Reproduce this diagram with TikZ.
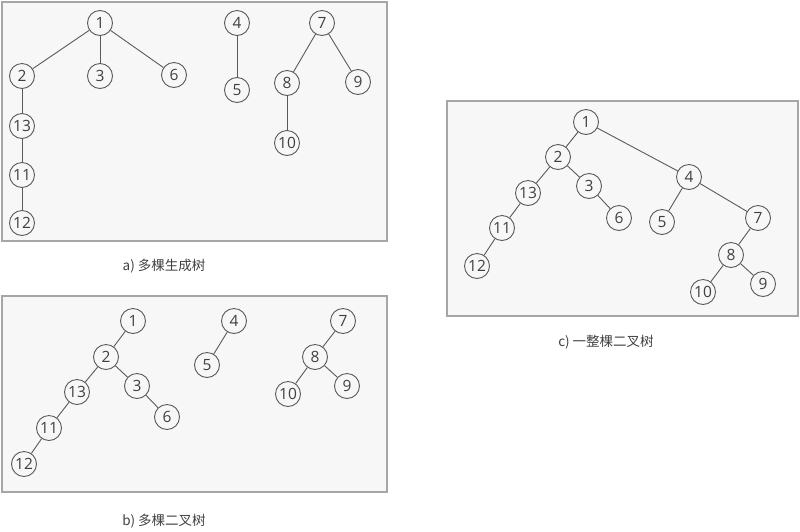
\documentclass[tikz,border=0pt]{standalone}
\usepackage{fontspec}
\setmainfont{Open Sans}
\newfontfamily\cjk{Noto Sans CJK SC}
\usepackage{tikz}
\definecolor{panelfill}{HTML}{F7F7F7}
\definecolor{panelline}{HTML}{A6A6A6}
\definecolor{treeline}{HTML}{5A5A5A}
\definecolor{numtext}{HTML}{404040}
\tikzstyle{panel} = [draw=panelline, fill=panelfill, line width=1.2pt]
\tikzstyle{vertex} = [circle, draw=treeline, fill=panelfill, line width=0.9pt, minimum size=25pt, inner sep=0pt, text=numtext, font=\fontsize{15.5}{15.5}\selectfont]
\tikzstyle{edge} = [draw=treeline, line width=0.9pt]
\tikzstyle{caption} = [text=numtext, font=\cjk\fontsize{13.5}{13.5}\selectfont]

\begin{document}
\begin{tikzpicture}[x=1pt,y=-1pt]
	\useasboundingbox (0,0) rectangle (800,531);
	
	% ------------------- Panels ------------------- %
	\draw[panel] (2,2) rectangle (387,241);
	\draw[panel] (2,296) rectangle (387,492);
	\draw[panel] (447,101) rectangle (798,316);
	
	% ------------------- a) forest ------------------- %
	\foreach \n/\x/\y in {1/100/23, 2/22/76, 3/100/76, 6/174/75, 13/22/126, 11/22/175, 12/22/223,
		4/237/23, 5/237/90, 7/322/23, 8/287/83, 9/358/82, 10/287/143}
		\node[vertex] (a\n) at (\x,\y) {\n};
	\foreach \u/\v in {1/2, 1/3, 1/6, 2/13, 13/11, 11/12, 4/5, 7/8, 7/9, 8/10}
		\draw[edge] (a\u) -- (a\v);
	\node[caption] (capa) at (164,266) {a) 多棵生成树};
	
	% ------------------- b) binary trees ------------------- %
	\foreach \n/\x/\y in {1/133/321, 2/106/357, 3/137/386, 6/167/417, 13/77/392, 11/49/428, 12/24/464,
		4/234/321, 5/207/365, 7/343/321, 8/315/357, 9/347/386, 10/288/394}
		\node[vertex] (b\n) at (\x,\y) {\n};
	\foreach \u/\v in {1/2, 2/13, 2/3, 3/6, 13/11, 11/12, 4/5, 7/8, 8/10, 8/9}
		\draw[edge] (b\u) -- (b\v);
	\node[caption] (capb) at (164,521) {b) 多棵二叉树};
	
	% ------------------- c) one binary tree ------------------- %
	\foreach \n/\x/\y in {1/586/122, 2/558/157, 3/589/186, 6/619/218, 13/528/193, 11/502/228, 12/477/266,
		4/689/177, 5/662/222, 7/758/218, 8/731/255, 9/763/284, 10/703/292}
		\node[vertex] (c\n) at (\x,\y) {\n};
	\foreach \u/\v in {1/2, 1/4, 2/13, 2/3, 3/6, 13/11, 11/12, 4/5, 4/7, 7/8, 8/10, 8/9}
		\draw[edge] (c\u) -- (c\v);
	\node[caption] (capc) at (606,342) {c) 一整棵二叉树};
	
\end{tikzpicture}
\end{document}
